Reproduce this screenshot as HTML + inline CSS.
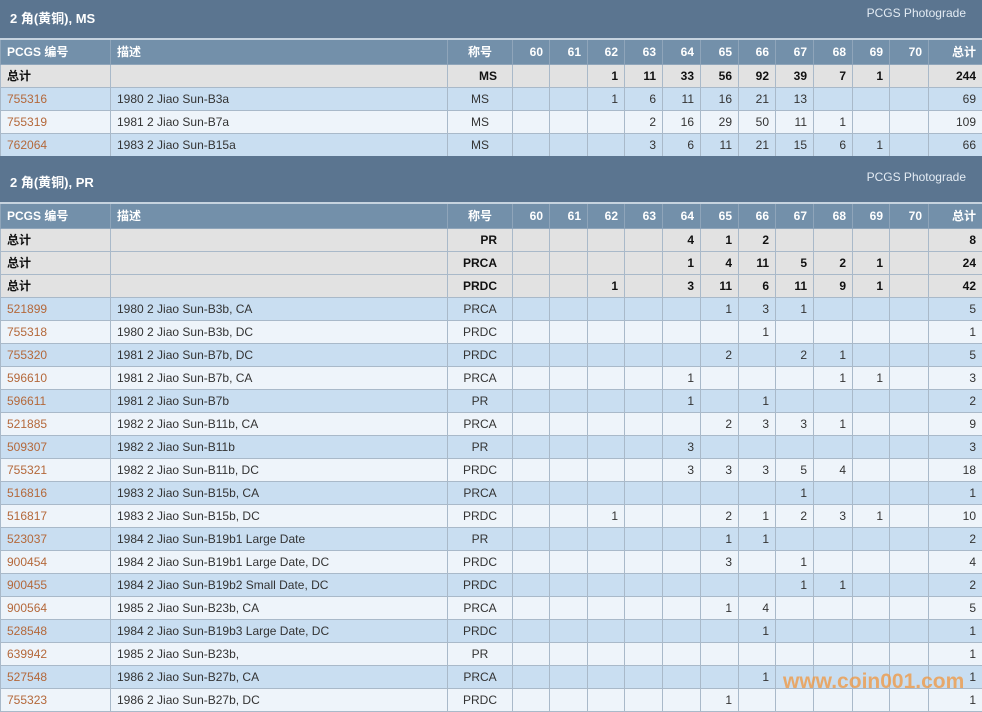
<!DOCTYPE html>
<html><head><meta charset="utf-8">
<style>
*{margin:0;padding:0;box-sizing:border-box}
body{width:982px;height:711px;overflow:hidden;background:#fff;font-family:"Liberation Sans","Noto Sans CJK SC",sans-serif;font-size:12px;color:#333;position:relative}
.sec{position:absolute;left:0;width:982px;height:46px;background:#5b7590;color:#fff}
.sec .t{position:absolute;left:10px;top:16px;font-size:13px;font-weight:bold}
.sec .p{position:absolute;right:16px;top:14px;font-size:12px;color:#e4ecf4}
table{position:absolute;left:0;width:982px;border-collapse:collapse;table-layout:fixed}
td,th{border:1px solid #a9b9c9;height:23px;padding:0 6px;white-space:nowrap;overflow:hidden;text-align:right}
th{background:#7390aa;color:#fff;font-weight:bold;height:25px;border-color:#8fa5ba;border-top:2px solid #c6d3df;text-align:right}
th.l,td.l{text-align:left}
th.c{text-align:center}
td.n{text-align:center}
tr.tot td{background:#e2e2e2;font-weight:bold;color:#111}
tr.tot td.n{text-align:right;padding-right:15px}
tr.a td{background:#c9def1}
tr.b td{background:#eef4fa}
td.id{color:#b4683a}
.wm{position:absolute;left:783px;top:670px;font-size:21px;font-weight:bold;color:rgba(240,150,60,0.75)}
</style></head><body>
<div class="sec" style="top:-8px"><span class="t">2 角(黄铜), MS</span><span class="p">PCGS Photograde</span></div>
<table id="t1" style="top:38px"></table>
<div class="sec" style="top:156px"><span class="t">2 角(黄铜), PR</span><span class="p">PCGS Photograde</span></div>
<table id="t2" style="top:202px"></table>
<div class="wm">www.coin001.com</div>
<script>
var W=[110,337,65,37,38,37,38,38,38,37,38,39,37,39,54];
function cg(){return '<colgroup>'+W.map(function(w){return '<col style="width:'+w+'px">'}).join('')+'</colgroup>';}
function hdr(){var h='<tr><th class="l">PCGS 编号</th><th class="l">描述</th><th class="c">称号</th>';for(var g=60;g<=70;g++)h+='<th>'+g+'</th>';return h+'<th>总计</th></tr>';}
function row(cls,id,desc,name,vals,tot){var h='<tr class="'+cls+'"><td class="l'+(cls!='tot'?' id':'')+'">'+id+'</td><td class="l">'+desc+'</td><td class="n">'+name+'</td>';for(var i=0;i<11;i++)h+='<td>'+(vals[i]||'')+'</td>';return h+'<td>'+tot+'</td></tr>';}
function g(o){var a=[];for(var k in o)a[k-60]=o[k];return a;}
var t1=cg()+hdr();
t1+=row('tot','总计','','MS',g({62:1,63:11,64:33,65:56,66:92,67:39,68:7,69:1}),244);
t1+=row('a','755316','1980 2 Jiao Sun-B3a','MS',g({62:1,63:6,64:11,65:16,66:21,67:13}),69);
t1+=row('b','755319','1981 2 Jiao Sun-B7a','MS',g({63:2,64:16,65:29,66:50,67:11,68:1}),109);
t1+=row('a','762064','1983 2 Jiao Sun-B15a','MS',g({63:3,64:6,65:11,66:21,67:15,68:6,69:1}),66);
document.getElementById('t1').innerHTML=t1;
var t2=cg()+hdr();
t2+=row('tot','总计','','PR',g({64:4,65:1,66:2}),8);
t2+=row('tot','总计','','PRCA',g({64:1,65:4,66:11,67:5,68:2,69:1}),24);
t2+=row('tot','总计','','PRDC',g({62:1,64:3,65:11,66:6,67:11,68:9,69:1}),42);
var D=[
['521899','1980 2 Jiao Sun-B3b, CA','PRCA',{65:1,66:3,67:1},5],
['755318','1980 2 Jiao Sun-B3b, DC','PRDC',{66:1},1],
['755320','1981 2 Jiao Sun-B7b, DC','PRDC',{65:2,67:2,68:1},5],
['596610','1981 2 Jiao Sun-B7b, CA','PRCA',{64:1,68:1,69:1},3],
['596611','1981 2 Jiao Sun-B7b','PR',{64:1,66:1},2],
['521885','1982 2 Jiao Sun-B11b, CA','PRCA',{65:2,66:3,67:3,68:1},9],
['509307','1982 2 Jiao Sun-B11b','PR',{64:3},3],
['755321','1982 2 Jiao Sun-B11b, DC','PRDC',{64:3,65:3,66:3,67:5,68:4},18],
['516816','1983 2 Jiao Sun-B15b, CA','PRCA',{67:1},1],
['516817','1983 2 Jiao Sun-B15b, DC','PRDC',{62:1,65:2,66:1,67:2,68:3,69:1},10],
['523037','1984 2 Jiao Sun-B19b1 Large Date','PR',{65:1,66:1},2],
['900454','1984 2 Jiao Sun-B19b1 Large Date, DC','PRDC',{65:3,67:1},4],
['900455','1984 2 Jiao Sun-B19b2 Small Date, DC','PRDC',{67:1,68:1},2],
['900564','1985 2 Jiao Sun-B23b, CA','PRCA',{65:1,66:4},5],
['528548','1984 2 Jiao Sun-B19b3 Large Date, DC','PRDC',{66:1},1],
['639942','1985 2 Jiao Sun-B23b,','PR',{},1],
['527548','1986 2 Jiao Sun-B27b, CA','PRCA',{66:1},1],
['755323','1986 2 Jiao Sun-B27b, DC','PRDC',{65:1},1]];
D.forEach(function(d,i){t2+=row(i%2?'b':'a',d[0],d[1],d[2],g(d[3]),d[4]);});
document.getElementById('t2').innerHTML=t2;
</script>
</body></html>
